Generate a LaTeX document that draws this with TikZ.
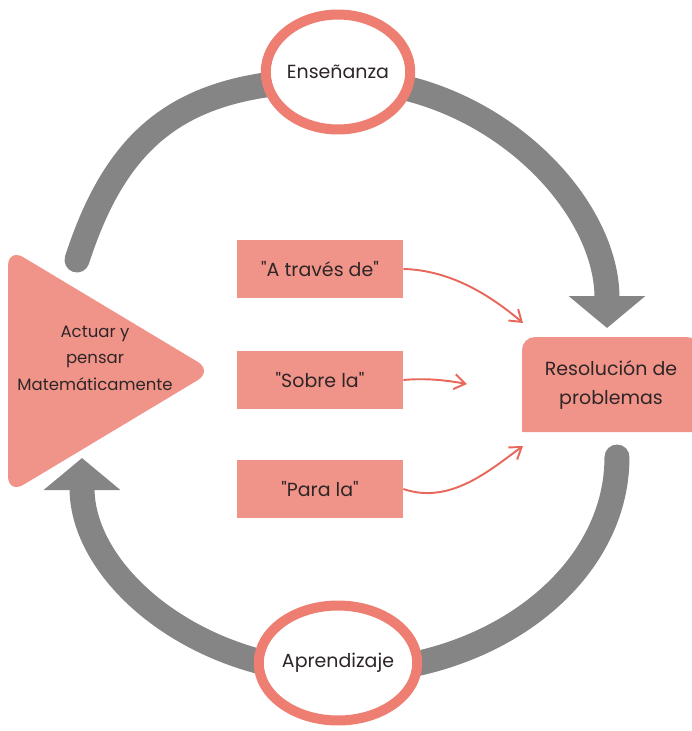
\documentclass[tikz,border=0pt]{standalone}
\usepackage{fontspec}
\setmainfont{Poppins}
\usetikzlibrary{shapes.geometric,arrows.meta}
\definecolor{salmon}{HTML}{F0948A}
\definecolor{ringred}{HTML}{EE7D72}
\definecolor{arcgray}{HTML}{858585}
\definecolor{arrowred}{HTML}{E8675B}
\definecolor{txt}{HTML}{2E2626}

\begin{document}
\begin{tikzpicture}[x=0.02cm, y=-0.02cm,
    ring/.style = {draw=ringred, line width=0.2cm, fill=white, ellipse,
        minimum width=2.82cm, minimum height=2.3cm, inner sep=0pt},
    box/.style = {fill=salmon, minimum width=3.32cm, minimum height=1.16cm, inner sep=0pt},
    grayarc/.style = {draw=arcgray, line width=0.5cm, line cap=round},
    redarrow/.style = {draw=arrowred, line width=1.1pt, -{Straight Barb[length=2.2mm,width=3mm]}},
    font=\fontsize{10.8}{15}\selectfont, text=txt]
    \useasboundingbox (0,0) rectangle (691,731);

    % the two big gray arrows
    \coordinate (topstart) at (77,260);
    \coordinate (topend) at (607,328);
    \coordinate (botstart) at (617,457);
    \coordinate (botend) at (82,458);
    \draw [grayarc] (topstart) .. controls (120,127) and (190,80) .. (340,80);
    \draw [grayarc, line cap=butt, -{Triangle[width=1.5cm,length=0.64cm]}]
        (340,80) .. controls (487,80) and (607,200) .. (topend);
    \draw [grayarc] (botstart) .. controls (617,576) and (493,672) .. (340,672);
    \draw [grayarc, line cap=butt, -{Triangle[width=1.5cm,length=0.64cm]}]
        (340,672) .. controls (198,672) and (82,576) .. (botend);

    % rings
    \draw (338,72)node(ense)[ring]{Enseñanza}
    (338,663)node(apre)[ring]{Aprendizaje};

    % triangle
    \fill [salmon, rounded corners=0.36cm] (8,248) -- (213,371) -- (8,494) -- cycle;
    \node (actuar) at (95,358) [align=center, font=\fontsize{9.4}{15}\selectfont]
        {Actuar y\\pensar\\Matemáticamente};

    % boxes
    \draw (320,269)node(traves)[box]{\textquotedbl A través de\textquotedbl}
    (320,380)node(sobre)[box]{\textquotedbl Sobre la\textquotedbl}
    (320,489)node(para)[box]{\textquotedbl Para la\textquotedbl};

    % resolution box, only the top left corner rounded
    \fill [salmon] (522,432) [rounded corners=0.26cm] -- (522,337)
        -- (700,337) [sharp corners] -- (700,432) -- cycle;
    \node (resol) at (611,385) [minimum width=3.56cm, minimum height=1.9cm,
        align=center, font=\fontsize{10.8}{16.5}\selectfont] {Resolución de\\problemas};

    \coordinate (t1) at (523,323);
    \coordinate (t2) at (467,384);
    \coordinate (t3) at (523,446);
    \draw [redarrow](traves.east) .. controls (450,270) and (490,295) .. (t1);
    \draw [redarrow](sobre.east) .. controls (425,378) and (445,380) .. (t2);
    \draw [redarrow](para.east) .. controls (450,505) and (490,470) .. (t3);
\end{tikzpicture}
\end{document}
